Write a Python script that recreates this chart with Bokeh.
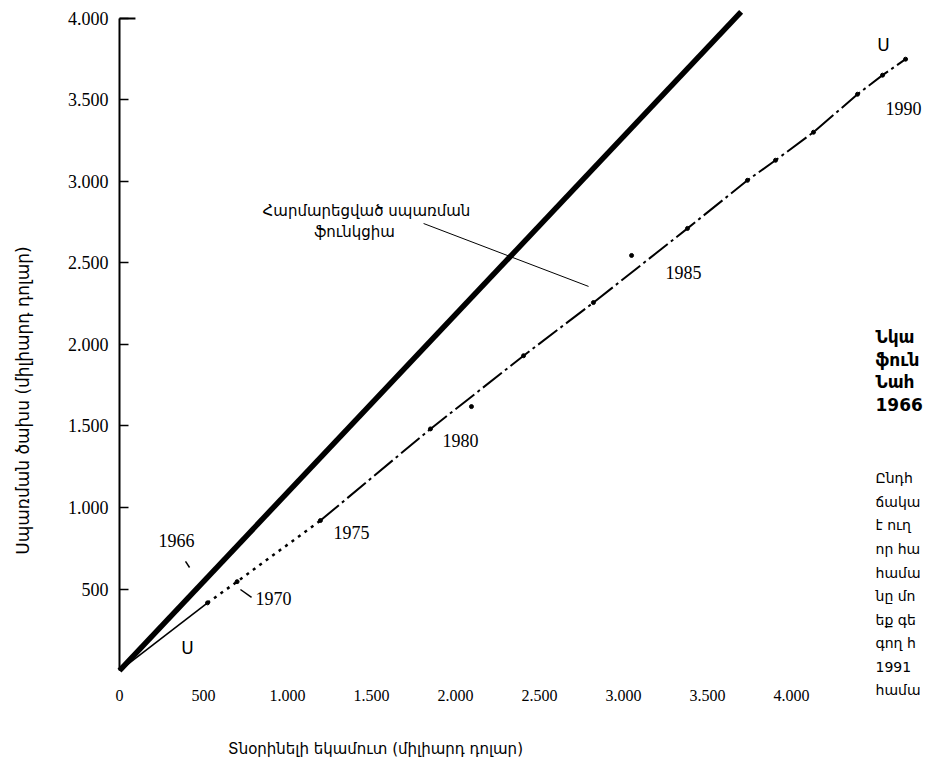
from bokeh.plotting import figure
from bokeh.models import FixedTicker, ColumnDataSource, Range1d
from bokeh.core.properties import value
from bokeh.embed import file_html
from bokeh.resources import INLINE
import math

# ---------------- data (billion dollars) ----------------
# Observed consumption path (disposable income -> consumption)
income = [0, 524, 700, 1196, 1851, 2405, 2821, 3381, 3738, 3905, 4131, 4393, 4542, 4679]
consumption = [0, 415, 545, 920, 1482, 1931, 2257, 2712, 3007, 3130, 3302, 3535, 3652, 3750]

# Thick reference line
ref_income = [0, 3700]
ref_consumption = [0, 4040]

# Isolated year observations
dot_income = [2095, 3048]
dot_consumption = [1619, 2546]

# Year labels
year_labels = ["1966", "1970", "1975", "1980", "1985", "1990"]

# Ticks
x_ticks = [0, 500, 1000, 1500, 2000, 2500, 3000, 3500, 4000]
x_tick_labels = ["0", "500", "1.000", "1.500", "2.000", "2.500", "3.000", "3.500", "4.000"]
y_ticks = [500, 1000, 1500, 2000, 2500, 3000, 3500, 4000]
y_tick_labels = ["500", "1.000", "1.500", "2.000", "2.500", "3.000", "3.500", "4.000"]

x_title = "Տնօրինելի եկամուտ (միլիարդ դոլար)"
y_title = "Սպառման ծախս (միլիարդ դոլար)"
fit_label = ["Հարմարեցված սպառման", "ֆունկցիա"]
side_title = ["Նկա", "ֆուն", "Նահ", "1966"]
side_body = ["Ընդհ", "ճակա", "է ուղ", "որ հա", "համա", "նը մո", "եք գե", "գող հ", "1991", "համա"]

# ---------------- figure ----------------
# the frame fills the whole canvas; axes are pinned at zero so all texts sit inside it
p = figure(width=927, height=760, output_backend="svg", toolbar_location=None,
           x_range=Range1d(-708.3, 4809.5), y_range=Range1d(-552, 4110),
           min_border_left=0, min_border_right=0, min_border_top=0, min_border_bottom=0)
p.outline_line_color = None
p.grid.visible = False
p.background_fill_color = "white"
p.border_fill_color = "white"

SERIF = "Liberation Serif"
SANS = "DejaVu Sans"

# axes
yax = p.yaxis[0]
yax.fixed_location = 0
yax.ticker = FixedTicker(ticks=y_ticks)
yax.major_label_overrides = {t: l for t, l in zip(y_ticks, y_tick_labels)}
yax.bounds = (0, 4000)
yax.axis_line_width = 2
yax.axis_line_color = "black"
yax.major_tick_in = 9
yax.major_tick_out = 0
yax.major_tick_line_width = 1.5
yax.minor_tick_line_color = None
yax.major_label_standoff = 11
yax.major_label_text_font = SERIF
yax.major_label_text_font_size = "18px"
yax.major_label_text_color = "black"

xax = p.xaxis[0]
xax.fixed_location = 0
xax.ticker = FixedTicker(ticks=x_ticks)
xax.major_label_overrides = {t: l for t, l in zip(x_ticks, x_tick_labels)}
xax.axis_line_color = None
xax.major_tick_line_color = None
xax.minor_tick_line_color = None
xax.major_label_standoff = 13
xax.major_label_text_font = SERIF
xax.major_label_text_font_size = "16px"
xax.major_label_text_color = "black"

# corner at top of y axis
p.segment(x0=[0], y0=[4000], x1=[95], y1=[4000], line_width=2, line_color="black")

# thick reference line
p.line(ref_income, ref_consumption, line_width=5.5, line_color="black")

# observed consumption path: solid near the origin, dotted around 1966-1970, dash-dot after
p.line(income[:2], consumption[:2], line_width=1.6, line_color="black")
p.line(income[1:4], consumption[1:4], line_width=2.5, line_color="black", line_dash="3 5")
p.line(income[3:], consumption[3:], line_width=2, line_color="black", line_dash="24 4 3 4")
p.scatter(income[1:], consumption[1:], size=4, color="black")
p.scatter(dot_income, dot_consumption, size=4, color="black")

# year labels
yl = ColumnDataSource(dict(x=[339, 917, 1381, 2030, 3357, 4667],
                           y=[798, 442, 847, 1411, 2442, 3448],
                           t=year_labels))
p.text(x="x", y="y", text="t", source=yl, text_font=value(SERIF), text_font_size="18px",
       text_align="center", text_baseline="middle", text_color="black")

# small leaders for 1966 and 1970
p.segment(x0=[393, 720], y0=[669, 497], x1=[417, 786], y1=[632, 448],
          line_width=1.5, line_color="black")

# curve labels
p.text(x=[4548, 405], y=[3834, 141], text=["Ս", "Ս"], text_font=value(SANS),
       text_font_size="17px", text_align="center", text_baseline="middle", text_color="black")

# fitted function label and leader
p.text(x=[1470, 1399], y=[2816, 2687], text=fit_label, text_font=value(SANS),
       text_font_size="15px", text_align="center", text_baseline="middle", text_color="black")
p.segment(x0=[1810], y0=[2742], x1=[2792], y1=[2356], line_width=1, line_color="black")

# axis titles
p.text(x=[1524], y=[-479], text=[x_title], text_font=value(SANS), text_font_size="15px",
       text_align="center", text_baseline="middle", text_color="black")
p.text(x=[-577], y=[1656], text=[y_title], text_font=value(SANS), text_font_size="17px",
       angle=math.pi / 2, text_align="center", text_baseline="middle", text_color="black")

# side caption (only the part that the reference shows)
st_y = [2043, 1905, 1767, 1629]
p.text(x=[4500] * 4, y=st_y, text=side_title, text_font=value(SANS), text_font_size="17px",
       text_font_style="bold", text_align="left", text_baseline="middle", text_color="black")
sb_y = [1178 - 144.2 * i for i in range(10)]
p.text(x=[4500] * 10, y=sb_y, text=side_body, text_font=value(SANS), text_font_size="14px",
       text_align="left", text_baseline="middle", text_color="black")

open("out.html", "w").write(file_html(p, INLINE))
